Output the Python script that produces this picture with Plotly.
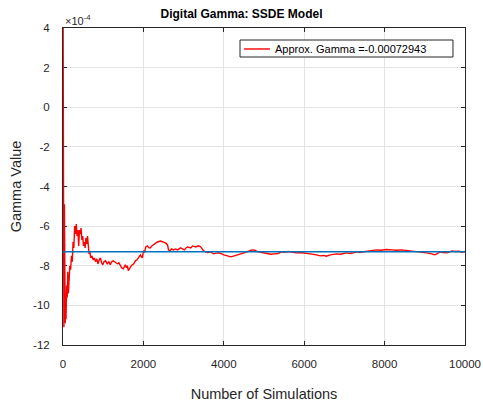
import plotly.graph_objects as go

# running estimate of the digital gamma, in units of 1e-4
sims = [1, 12, 22, 28, 35, 42, 48, 55, 62, 75, 90, 105, 120, 135, 150, 170, 190,
        210, 230, 250, 270, 290, 310, 330, 350, 370, 390, 410, 430, 450, 470,
        490, 510, 530, 550, 570, 590, 610, 630, 650, 670, 690, 720, 750, 780,
        810, 840, 870, 900, 930, 960, 990, 1020, 1060, 1100, 1140, 1175, 1210,
        1250, 1300, 1350, 1390, 1425, 1460, 1500, 1525, 1550, 1580, 1600, 1625,
        1660, 1700, 1725, 1760, 1800, 1840, 1875, 1900, 1925, 1950, 1975, 2000,
        2030, 2060, 2100, 2140, 2175, 2210, 2250, 2300, 2350, 2425, 2480, 2550,
        2600, 2625, 2660, 2700, 2750, 2800, 2850, 2925, 2970, 3020, 3060, 3100,
        3175, 3225, 3300, 3375, 3425, 3500, 3550, 3600, 3675, 3750, 3850, 3925,
        4000, 4080, 4175, 4260, 4350, 4420, 4500, 4580, 4675, 4750, 4800, 4850,
        4920, 5000, 5080, 5175, 5260, 5350, 5425, 5500, 5600, 5700, 5800, 5900,
        6050, 6150, 6300, 6400, 6480, 6550, 6650, 6800, 6900, 7050, 7150, 7300,
        7400, 7550, 7650, 7800, 7900, 8050, 8175, 8300, 8425, 8550, 8675, 8800,
        8925, 9050, 9175, 9250, 9320, 9375, 9450, 9550, 9620, 9675, 9760, 9850,
        9925, 9970, 10000]
gamma_e4 = [6.0, -3.0, -11.1, -9.5, -4.9, -7.5, -10.2, -10.9, -9.8, -10.7, -9.0,
            -9.6, -8.3, -9.4, -8.6, -8.0, -8.2, -7.5, -7.8, -6.8, -7.1, -6.0,
            -6.4, -5.9, -6.5, -6.2, -7.0, -6.2, -6.4, -6.1, -6.7, -6.5, -7.0,
            -6.8, -7.1, -6.6, -6.9, -6.5, -7.0, -7.4, -7.3, -7.6, -7.5, -7.7,
            -7.6, -7.8, -7.65, -7.9, -7.7, -7.6, -7.85, -7.95, -7.8, -7.75,
            -7.9, -7.8, -7.95, -7.8, -7.75, -7.85, -7.9, -7.85, -8.0, -8.1,
            -8.15, -8.05, -7.95, -8.1, -8.0, -8.25, -8.1, -8.0, -7.95, -7.9,
            -7.75, -7.7, -7.6, -7.5, -7.45, -7.55, -7.6, -7.25, -7.3, -7.05,
            -7.0, -7.1, -7.1, -7.0, -6.95, -6.85, -6.8, -6.75, -6.8, -6.85,
            -6.95, -7.2, -7.25, -7.15, -7.2, -7.15, -7.2, -7.1, -7.15, -7.2,
            -7.1, -7.05, -7.1, -7.0, -7.05, -6.99, -7.05, -7.25, -7.3, -7.33,
            -7.3, -7.4, -7.35, -7.38, -7.45, -7.5, -7.55, -7.5, -7.45, -7.4,
            -7.35, -7.3, -7.22, -7.2, -7.25, -7.3, -7.32, -7.35, -7.4, -7.42,
            -7.4, -7.38, -7.3, -7.32, -7.28, -7.3, -7.35, -7.33, -7.35, -7.4,
            -7.45, -7.5, -7.48, -7.52, -7.45, -7.4, -7.42, -7.35, -7.38, -7.3,
            -7.32, -7.28, -7.25, -7.2, -7.22, -7.18, -7.2, -7.22, -7.2, -7.23,
            -7.25, -7.28, -7.3, -7.35, -7.4, -7.45, -7.38, -7.3, -7.33, -7.35,
            -7.3, -7.25, -7.28, -7.27, -7.32, -7.3, -7.28]
approx_gamma = -0.00072943
x_ticks = [0, 2000, 4000, 6000, 8000, 10000]
y_ticks = [-12, -10, -8, -6, -4, -2, 0, 2, 4]
legend_label = f"Approx. Gamma ={approx_gamma:.8f}"

font = "Liberation Sans, Arial, sans-serif"
red = "#FF0000"

fig = go.Figure()

fig.add_trace(go.Scatter(
    x=sims, y=gamma_e4, mode="lines",
    line={"color": red, "width": 1.4},
    name=legend_label, showlegend=False,
))
fig.add_trace(go.Scatter(
    x=[sims[0], sims[-1]], y=[approx_gamma * 1e4] * 2, mode="lines",
    line={"color": "#0072BD", "width": 1.4},
    showlegend=False,
))

axis_common = {
    "showline": True, "linecolor": "#262626", "linewidth": 1, "mirror": "ticks",
    "ticks": "inside", "ticklen": 4, "tickcolor": "#262626",
    "showgrid": True, "gridcolor": "#E3E3E3", "gridwidth": 1,
    "zeroline": False, "ticklabeloverflow": "allow", "automargin": False,
    "layer": "below traces",
    "tickfont": {"family": font, "size": 11.5, "color": "#262626"},
}

fig.update_xaxes(range=[0, 10000], tickvals=x_ticks,
                 ticktext=[str(v) for v in x_ticks], ticklabelstandoff=8,
                 **axis_common,
                 title={"text": "Number of Simulations", "standoff": 20,
                        "font": {"family": font, "size": 14.5, "color": "#262626"}})
fig.update_yaxes(range=[-12, 4], tickvals=y_ticks,
                 ticktext=[str(v) for v in y_ticks], ticklabelstandoff=10,
                 **axis_common,
                 title={"text": "Gamma Value", "standoff": 8,
                        "font": {"family": font, "size": 14.5, "color": "#262626"}})

fig.add_annotation(x=0, y=1, xref="paper", yref="paper", xanchor="left",
                   yanchor="bottom", showarrow=False, yshift=-1,
                   text="\u00d710<sup>-4</sup>",
                   font={"family": font, "size": 11, "color": "#262626"})

# MATLAB-style legend box: frame, line sample, label
fig.add_shape(type="rect", xref="paper", yref="paper",
              x0=0.4403, x1=0.9701, y0=0.9085, y1=0.9621,
              fillcolor="white", line={"color": "#262626", "width": 1})
fig.add_shape(type="line", xref="paper", yref="paper",
              x0=0.4502, x1=0.5149, y0=0.9338, y1=0.9338,
              line={"color": red, "width": 1.4})
fig.add_annotation(x=0.5224, y=0.9338, xref="paper", yref="paper",
                   xanchor="left", yanchor="middle", showarrow=False,
                   text=legend_label,
                   font={"family": font, "size": 11, "color": "#000000"})

fig.update_layout(
    width=483, height=403,
    margin={"l": 63, "r": 18, "t": 28, "b": 58},
    paper_bgcolor="white", plot_bgcolor="white",
    title={"text": "<b>Digital Gamma: SSDE Model</b>", "x": 0.5, "xanchor": "center",
           "y": 0.965, "yanchor": "middle",
           "font": {"family": font, "size": 12, "color": "#000000"}},
    showlegend=False,
)

fig.write_html("out.html", config={"displayModeBar": False},
               post_script="document.body.style.margin='0';"
                           "document.body.style.overflow='hidden';")
